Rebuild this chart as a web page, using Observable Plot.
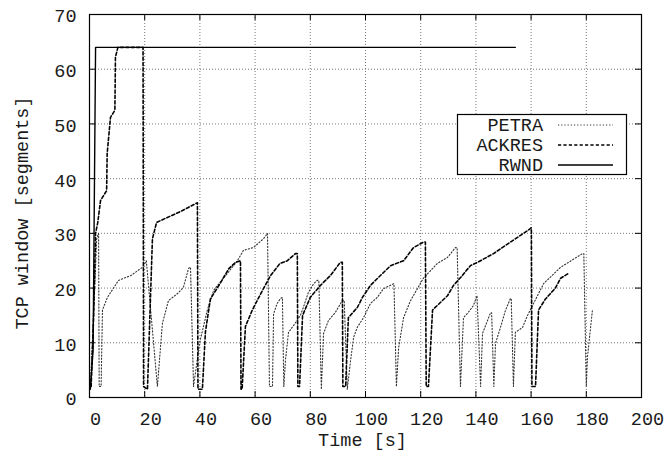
<!DOCTYPE html>
<html><head><meta charset="utf-8">
<script src="https://cdn.jsdelivr.net/npm/d3@7"></script>
<script src="https://cdn.jsdelivr.net/npm/@observablehq/plot@0.6"></script>
<style>html,body{margin:0;padding:0;background:#fff}#chart svg{display:block}</style>
</head><body><div id="chart"></div>
<script>
// ---- data ----
const xTicks = [0, 20, 40, 60, 80, 100, 120, 140, 160, 180, 200];
const yTicks = [0, 10, 20, 30, 40, 50, 60, 70];
const seriesNames = ["PETRA", "ACKRES", "RWND"];
const xLabel = "Time [s]";
const yLabel = "TCP window [segments]";

const rwndT = [0.3, 1.3, 2.2, 154.3];
const rwndW = [1.5, 8.6, 64, 64];

const ackresT = [0.6, 1.5, 2.2, 3, 4, 6.2, 6.4, 7.6, 9.2, 9.4, 10.3, 19.4, 19.6, 21, 22.8, 24.3, 33, 39.1, 39.3, 40.9,
  42, 43.8, 47.5, 50.4, 52.9, 54.7, 54.9, 55.3, 56.5, 59, 62.7, 65.6, 69, 71.7, 74.6, 75.3, 75.5, 76.1, 77.2, 80,
  83.7, 87.3, 90.9, 91.6, 91.8, 92.8, 93.8, 97.1, 98.9, 101.8, 105.4, 109.1, 113.8, 117.4, 121, 121.7, 122, 122.8,
  124.3, 127.2, 129.7, 131.9, 135.1, 138, 140.6, 146.4, 152.5, 158.7, 160.1, 160.3, 161.6, 162.7, 165.2, 168.8, 170.7, 173.6];
const ackresW = [2, 15, 30, 32, 36, 37.8, 44.6, 51.2, 52.5, 62.2, 64, 64, 2, 1.5, 29, 32, 34, 35.6, 1.5, 1.5,
  12, 18, 21, 23.5, 24.7, 25, 1.5, 1.5, 13, 16, 19.6, 22.3, 24.5, 25, 26.3, 26.3, 2, 2, 15, 18.3,
  20.5, 22.3, 24.7, 24.7, 2, 2, 14.6, 16.5, 18.3, 20.5, 22.3, 24.1, 25, 27.4, 28.4, 28.4, 2, 2,
  16, 17.4, 18.6, 20.5, 22.3, 24.1, 24.7, 26.3, 28.4, 30.5, 31, 2, 2, 16, 18, 20, 21.8, 22.7];

const petraT = [0.3, 1.5, 2.6, 3.3, 3.5, 4.2, 4.7, 6.5, 8.7, 10.5, 15, 19.2, 20.6, 24.6, 26.4, 28.6, 31.9, 34, 35.9, 36.6,
  37.7, 39.9, 42.7, 45, 50, 53.6, 55.8, 59.4, 63, 64.5, 65.2, 66.3, 66.7, 68, 69.2, 69.9, 70.4, 71, 72.1, 74,
  76.4, 77.5, 79.3, 81.2, 82.5, 83.1, 84, 84.8, 86.6, 89, 91.6, 92.3, 93.4, 94.6, 95.7, 97, 99.3, 101.8, 104.3, 106.5,
  109, 110.3, 111.2, 112, 113.8, 116.3, 118.8, 121, 123.6, 126, 129.7, 132.6, 133.2, 134.4, 135.5, 137, 139.1, 140.4, 141.7, 142.4,
  145.3, 145.7, 146.5, 147.1, 148.9, 150.7, 152.5, 152.8, 153.6, 154.3, 156.9, 158.7, 160.5, 164.5, 170.7, 178.6, 179.1, 180, 180.4, 182.2];
const petraW = [2, 15, 29, 30, 2, 2, 16, 18.3, 20, 21.4, 22.3, 23.8, 25, 2, 13.5, 17.7, 19, 20.1, 23.6, 23.8,
  2, 10, 16, 19.6, 22.7, 25, 26.9, 27.4, 29, 30, 2, 2, 15.3, 17.2, 18.1, 18.3, 2, 6.8, 11.9, 13.2,
  15, 16.5, 19.2, 20.8, 21.4, 21.4, 1.5, 11.7, 14.1, 15.5, 17.7, 17.7, 1.5, 6.8, 11, 12.8, 14.6, 17.2, 18.3, 19.9,
  20.5, 20.8, 2, 9.1, 14.6, 17.7, 19.9, 21.8, 23.2, 24.5, 25.6, 27.4, 27.4, 2, 14.6, 15.4, 16.8, 18.6, 2, 11.7,
  15.5, 15.5, 2, 9.9, 12.8, 15.9, 18.1, 18.1, 2, 11.9, 12.8, 15, 16.8, 20.8, 23.8, 26.3, 26.3, 2, 7.3, 15.9];

// ---- layout / style ----
const W = 666, H = 459, mL = 89, mR = 25, mT = 14, mB = 62;
const font = "'Liberation Mono','Courier New',monospace";
const fs = 18.5;
const txt = "#1a1a1a";
const tickLenY = 6 * 70 / (H - mT - mB);
const tickLenX = 6 * 200 / (W - mL - mR);
const rows = (T, V) => T.map((t, i) => ({t, w: V[i]}));
const styles = {
  PETRA: {stroke: "#333", strokeWidth: 1.1, strokeDasharray: "1.2,2"},
  ACKRES: {stroke: "#000", strokeWidth: 1.6, strokeDasharray: "3.2,2.2"},
  RWND: {stroke: "#000", strokeWidth: 1.4, strokeDasharray: null}
};

const plot = Plot.plot({
  width: W, height: H, marginLeft: mL, marginRight: mR, marginTop: mT, marginBottom: mB,
  style: {fontFamily: font, fontSize: fs + "px", color: txt, background: "#fff"},
  x: {domain: [0, 200]},
  y: {domain: [0, 70]},
  marks: [
    Plot.ruleX(xTicks, {x: d => d, stroke: "#777", strokeDasharray: "1,2"}),
    Plot.ruleY(yTicks, {y: d => d, stroke: "#777", strokeDasharray: "1,2"}),
    Plot.ruleX(xTicks, {x: d => d, y1: 0, y2: tickLenY, stroke: "#000"}),
    Plot.ruleX(xTicks, {x: d => d, y1: 70 - tickLenY, y2: 70, stroke: "#000"}),
    Plot.ruleY(yTicks, {y: d => d, x1: 0, x2: tickLenX, stroke: "#000"}),
    Plot.ruleY(yTicks, {y: d => d, x1: 200 - tickLenX, x2: 200, stroke: "#000"}),
    Plot.line(rows(petraT, petraW), {x: "t", y: "w", ...styles.PETRA}),
    Plot.line(rows(ackresT, ackresW), {x: "t", y: "w", ...styles.ACKRES}),
    Plot.line(rows(rwndT, rwndW), {x: "t", y: "w", stroke: styles.RWND.stroke, strokeWidth: styles.RWND.strokeWidth}),
    Plot.frame({stroke: "#000", strokeWidth: 1.2}),
    Plot.axisX(xTicks, {tickSize: 0, tickPadding: 14, dx: 6, label: null, fontSize: fs}),
    Plot.axisY(yTicks, {tickSize: 0, tickPadding: 13, dy: 2, label: null, fontSize: fs}),
    Plot.text([xLabel], {frameAnchor: "bottom", dy: 43, dx: -3, lineAnchor: "middle", textAnchor: "middle", fontSize: fs}),
    Plot.text([yLabel], {frameAnchor: "left", rotate: -90, dx: -67, dy: 7, lineAnchor: "middle", textAnchor: "middle", fontSize: fs})
  ]
});

// ---- legend (gnuplot-style key box) ----
const svg = d3.select(plot);
const key = svg.append("g").attr("font-family", font).attr("font-size", fs);
key.append("rect").attr("x", 457.5).attr("y", 114.5).attr("width", 169).attr("height", 60)
  .attr("fill", "#fff").attr("stroke", "#000").attr("stroke-width", 1.2);
seriesNames.forEach((name, i) => {
  const cy = 125 + i * 20;
  key.append("text").attr("x", 543).attr("y", cy).attr("dy", "0.35em").attr("text-anchor", "end")
    .attr("fill", txt).text(name);
  const s = styles[name];
  key.append("line").attr("x1", 558).attr("x2", 613).attr("y1", cy).attr("y2", cy)
    .attr("stroke", s.stroke).attr("stroke-width", s.strokeWidth)
    .attr("stroke-dasharray", s.strokeDasharray);
});

document.getElementById("chart").appendChild(plot);
</script>
</body></html>
